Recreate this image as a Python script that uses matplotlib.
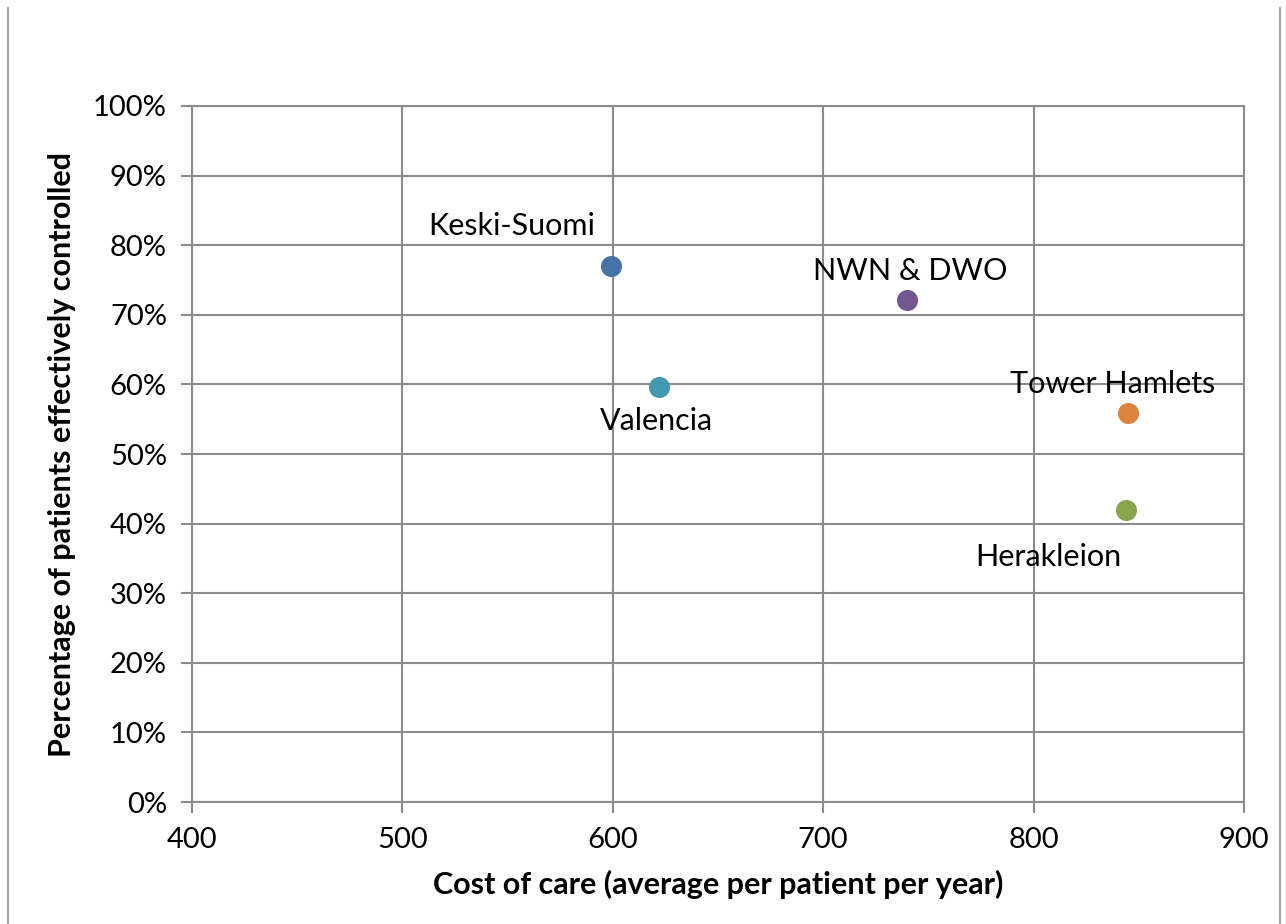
import matplotlib.pyplot as plt
from matplotlib.lines import Line2D
from matplotlib.ticker import PercentFormatter

plt.rcParams['font.family'] = ['Lato', 'DejaVu Sans']

sites = ['Keski-Suomi', 'Valencia', 'NWN & DWO', 'Tower Hamlets', 'Herakleion']
cost = [599, 622, 740, 845, 844]
controlled = [77.0, 59.6, 72.1, 55.9, 42.0]
colors = ['#4572A7', '#4198AF', '#71588F', '#DB843D', '#89A54E']
# label offsets in points (dx, dy)
offsets = [(-71, 29), (-2, -24), (2, 21), (-11, 21), (-56, -34)]

grid_col = '#8C8C8C'

fig = plt.figure(figsize=(12.86, 9.24), dpi=100)
ax = fig.add_axes([0.1493, 0.1320, 0.8180, 0.7533])

for name, x, y, c, off in zip(sites, cost, controlled, colors, offsets):
    ax.scatter(x, y, s=230, color=c, zorder=3, linewidths=0)
    ax.annotate(name, (x, y), xytext=off, textcoords='offset points',
                ha='center', va='center', fontsize=22, zorder=4)

ax.set_xlim(400, 900)
ax.set_ylim(0, 100)
ax.set_xticks(range(400, 901, 100))
ax.set_yticks(range(0, 101, 10))
ax.yaxis.set_major_formatter(PercentFormatter(decimals=0))
ax.grid(True, color=grid_col, linewidth=1.5)
ax.set_axisbelow(True)
for sp in ax.spines.values():
    sp.set_color(grid_col)
    sp.set_linewidth(1.5)
ax.tick_params(axis='both', length=8, width=1.5, color=grid_col,
               labelsize=21, pad=10)

ax.set_xlabel('Cost of care (average per patient per year)', fontsize=22,
              fontweight='bold', labelpad=12)
ax.set_ylabel('Percentage of patients effectively controlled', fontsize=22,
              fontweight='bold', labelpad=12)

# chart area border
for xf in (8 / 1286, 1280 / 1286):
    fig.add_artist(Line2D([xf, xf], [0, 1 - 8 / 924], transform=fig.transFigure,
                          color='#A6A6A6', linewidth=1.5))

fig.savefig('out.png', dpi=100)
